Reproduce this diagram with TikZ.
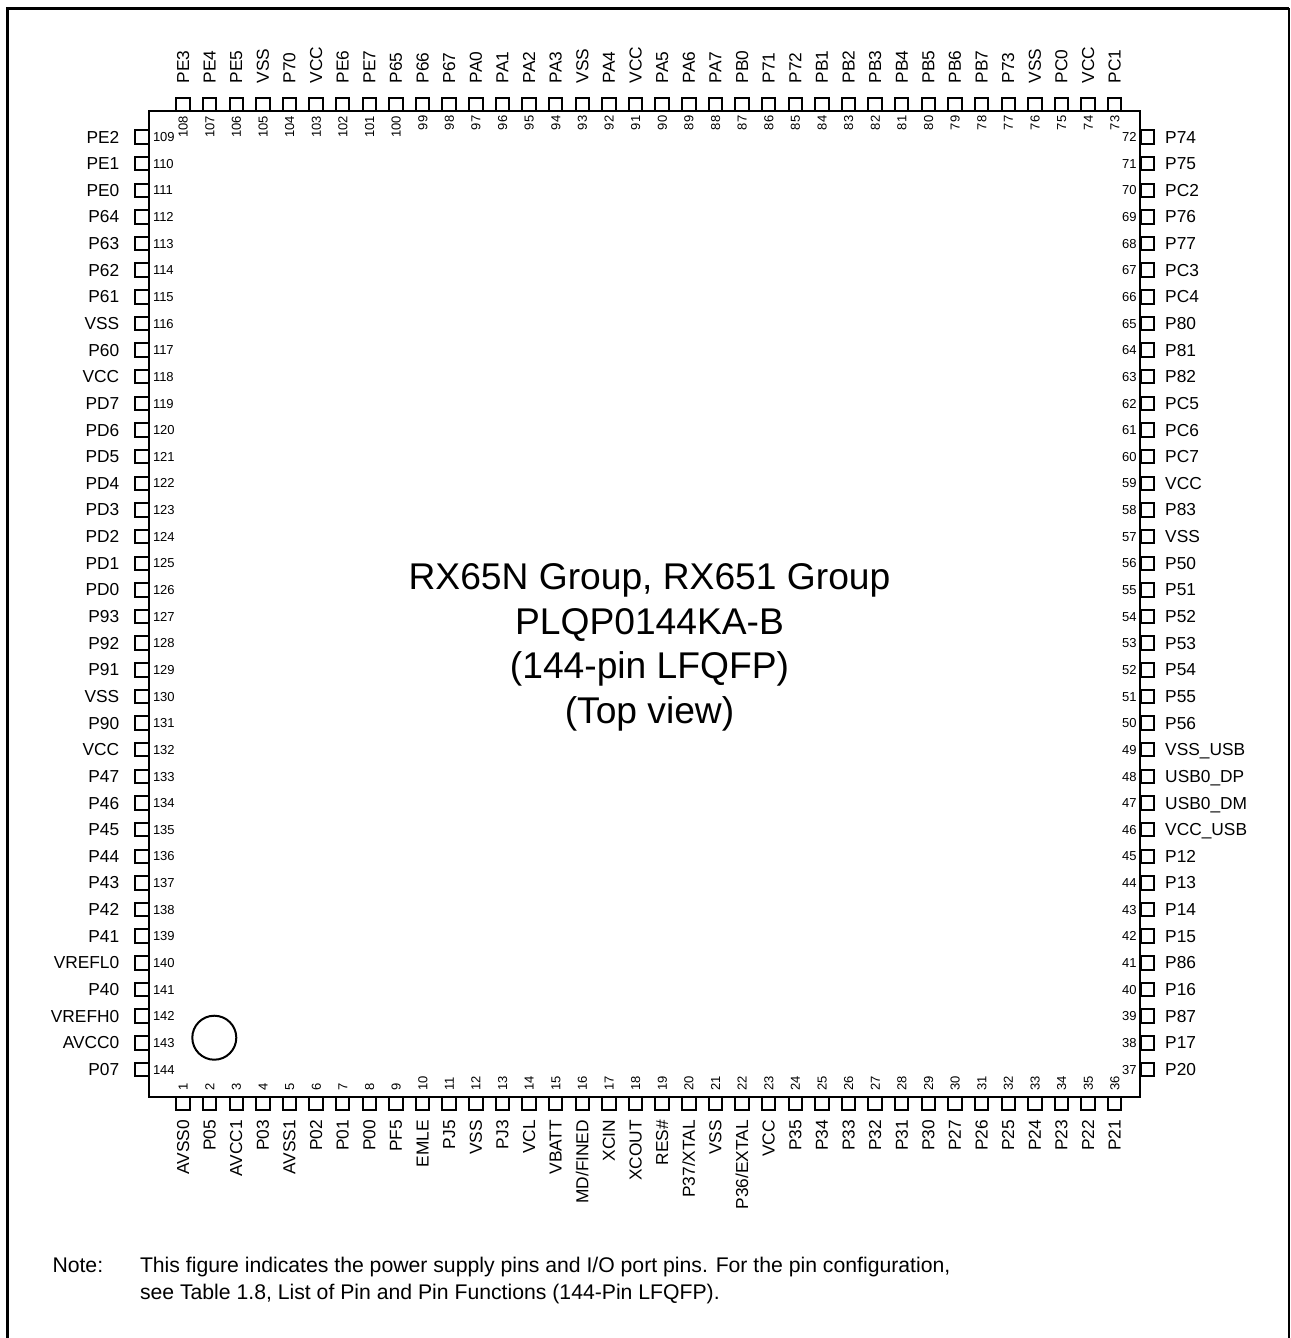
\documentclass[tikz,border=0pt]{standalone}
\usepackage{fontspec}
\setmainfont{Liberation Sans}
\usetikzlibrary{positioning}
\begin{document}
\begin{tikzpicture}[x=.75pt, y=-.75pt, line width=1.5pt]
\tikzset{pinbox/.style={draw, rectangle, minimum size=10.1pt, inner sep=0pt, outer sep=0pt}}
\tikzset{pinname/.style={inner sep=0pt, outer sep=0pt, text height=9pt, text depth=0pt, font=\fontsize{13}{15}\selectfont}}
\tikzset{pinnum/.style={inner sep=0pt, outer sep=0pt, text height=7pt, text depth=0pt, font=\fontsize{9.75}{11}\selectfont}}
\useasboundingbox (0,0) rectangle (1290,1338);
\draw[line width=2.1pt] (7.5,1338) -- (7.5,8.5) -- (1289,8.5);
\draw[line width=1pt] (1289,8.5) -- (1289,1338);
\node[draw, rectangle, minimum width=742.9pt, minimum height=738.8pt, inner sep=0pt, outer sep=0pt] (chip) at (644.75,604) {};
\foreach \n/\name [count=\i from 0] in {108/PE3,107/PE4,106/PE5,105/VSS,104/P70,103/VCC,102/PE6,101/PE7,100/P65,99/P66,98/P67,97/PA0,96/PA1,95/PA2,94/PA3,93/VSS,92/PA4,91/VCC,90/PA5,89/PA6,88/PA7,87/PB0,86/P71,85/P72,84/PB1,83/PB2,82/PB3,81/PB4,80/PB5,79/PB6,78/PB7,77/P73,76/VSS,75/PC0,74/VCC,73/PC1} {
\node[pinbox] (p\n) at (183+26.62*\i,104.5) {};
\node[pinname, above=10.9pt of p\n, anchor=west, rotate=90] (l\n) {\name};
\node[pinnum, below=3.4pt of p\n, anchor=east, rotate=90] (k\n) {\n};
}
\foreach \n/\name [count=\i from 0] in {109/PE2,110/PE1,111/PE0,112/P64,113/P63,114/P62,115/P61,116/VSS,117/P60,118/VCC,119/PD7,120/PD6,121/PD5,122/PD4,123/PD3,124/PD2,125/PD1,126/PD0,127/P93,128/P92,129/P91,130/VSS,131/P90,132/VCC,133/P47,134/P46,135/P45,136/P44,137/P43,138/P42,139/P41,140/VREFL0,141/P40,142/VREFH0,143/AVCC0,144/P07} {
\node[pinbox] (p\n) at (142,137+26.64*\i) {};
\node[pinname, left=12pt of p\n] (l\n) {\name};
\node[pinnum, right=3.2pt of p\n] (k\n) {\n};
}
\foreach \n/\name [count=\i from 0] in {72/P74,71/P75,70/PC2,69/P76,68/P77,67/PC3,66/PC4,65/P80,64/P81,63/P82,62/PC5,61/PC6,60/PC7,59/VCC,58/P83,57/VSS,56/P50,55/P51,54/P52,53/P53,52/P54,51/P55,50/P56,49/VSS\_USB,48/USB0\_DP,47/USB0\_DM,46/VCC\_USB,45/P12,44/P13,43/P14,42/P15,41/P86,40/P16,39/P87,38/P17,37/P20} {
\node[pinbox] (p\n) at (1147.5,137+26.64*\i) {};
\node[pinname, right=8.25pt of p\n] (l\n) {\name};
\node[pinnum, left=3.2pt of p\n] (k\n) {\n};
}
\foreach \n/\name [count=\i from 0] in {1/AVSS0,2/P05,3/AVCC1,4/P03,5/AVSS1,6/P02,7/P01,8/P00,9/PF5,10/EMLE,11/PJ5,12/VSS,13/PJ3,14/VCL,15/VBATT,16/{MD/FINED},17/XCIN,18/XCOUT,19/RES\#,20/{P37/XTAL},21/VSS,22/{P36/EXTAL},23/VCC,24/P35,25/P34,26/P33,27/P32,28/P31,29/P30,30/P27,31/P26,32/P25,33/P24,34/P23,35/P22,36/P21} {
\node[pinbox] (p\n) at (183+26.62*\i,1103.5) {};
\node[pinname, below=7.3pt of p\n, anchor=east, rotate=90] (l\n) {\name};
\node[pinnum, above=4.7pt of p\n, anchor=west, rotate=90] (k\n) {\n};
}
\node[circle, draw, minimum size=33pt, inner sep=0pt] (mark) at (214.3,1037.7) {};
\node[anchor=base, inner sep=0pt, align=center, font=\fontsize{27.9}{33.5}\selectfont] (title) at (649.5,723.5) {RX65N Group, RX651 Group\\PLQP0144KA-B\\(144-pin LFQFP)\\(Top view)};
\node[anchor=base west, inner sep=0pt, font=\fontsize{15.9}{20.3}\selectfont] (note) at (51.5,1272) {Note:};
\node[anchor=base west, inner sep=0pt, align=left, font=\fontsize{15.9}{20.3}\selectfont] (notetext) at (139,1299.2) {This figure indicates the power supply pins and I/O port pins. For the pin configuration,\\see Table 1.8, List of Pin and Pin Functions (144-Pin LFQFP).};
\end{tikzpicture}
\end{document}
